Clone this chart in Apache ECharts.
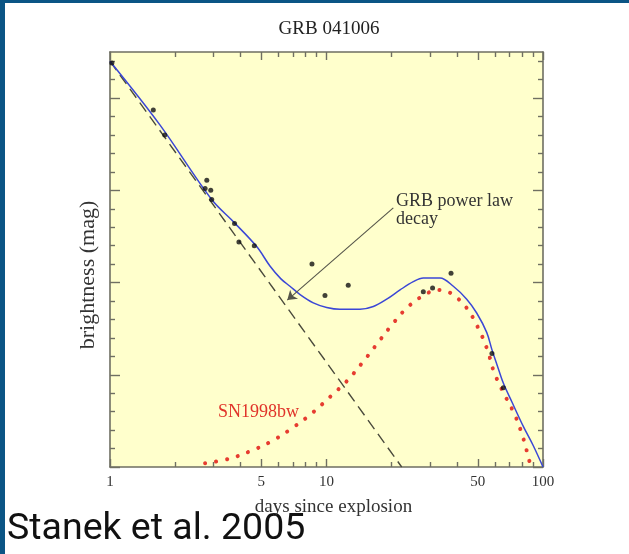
<!DOCTYPE html>
<html>
<head>
<meta charset="utf-8">
<title>GRB 041006</title>
<script src="https://cdn.jsdelivr.net/npm/echarts@6/dist/echarts.min.js"></script>
<style>
  html, body { margin: 0; padding: 0; background: #ffffff; }
  #chart { width: 629px; height: 554px; }
</style>
</head>
<body>
<div id="chart"></div>
<script>
// Observed afterglow photometry (days since burst, R magnitude)
const obsDays = [1.02, 1.585, 1.79, 2.80, 2.75, 2.92, 2.95, 3.76, 3.94, 4.64, 8.57, 9.84, 12.6, 28.0, 30.9, 37.6, 58.1, 65.6];
const obsMag  = [19.62, 20.13, 20.40, 20.89, 20.98, 21.00, 21.10, 21.36, 21.56, 21.60, 21.80, 22.14, 22.03, 22.10, 22.06, 21.90, 22.77, 23.14];

// Power-law afterglow decay (straight line in log time)
const powerLawDays = [1, 22.25];
const powerLawMag  = [19.60, 24.00];

// SN 1998bw template light curve
const snDays = [2.75, 3.56, 4.54, 5.68, 7.03, 8.64, 10.38, 12.4, 14.63, 17.06, 19.86, 23.62, 28.51, 32.63, 37.19, 44.23, 50.63, 55.55, 59.38, 65.56, 74.27, 81.1, 86.15, 88.0];
const snMag  = [23.96, 23.91, 23.82, 23.71, 23.57, 23.41, 23.24, 23.07, 22.87, 22.67, 22.47, 22.27, 22.13, 22.08, 22.11, 22.27, 22.51, 22.74, 22.97, 23.19, 23.44, 23.69, 23.92, 24.00];

// Combined model: afterglow + supernova + host
const modelDays = [1, 1.70, 2.95, 3.75, 4.76, 5.48, 6.16, 6.78, 7.55, 8.69, 10.02, 11.54, 14.28, 16.45, 18.97, 21.86, 25.17, 28.0, 33.44, 38.52, 44.42, 49.4, 54.95, 58.13, 61.3, 65.56, 71.69, 81.1, 90.21, 100];
const modelMag  = [19.60, 20.29, 21.10, 21.35, 21.61, 21.82, 21.96, 22.04, 22.13, 22.22, 22.27, 22.29, 22.29, 22.26, 22.18, 22.08, 21.99, 21.95, 21.95, 22.04, 22.18, 22.33, 22.54, 22.73, 22.89, 23.09, 23.29, 23.56, 23.77, 24.00];

// Axis ticks
const xMajorTicks = [1, 5, 10, 50, 100];
const xMinorTicks = [2, 3, 4, 6, 7, 8, 9, 20, 30, 40, 60, 70, 80, 90];
const yMajorTicks = [20, 21, 22, 23, 24];
const yMinorTicks = [19.6, 19.8, 20.2, 20.4, 20.6, 20.8, 21.2, 21.4, 21.6, 21.8, 22.2, 22.4, 22.6, 22.8, 23.2, 23.4, 23.6, 23.8];

const SERIF = '"Liberation Serif", "DejaVu Serif", serif';
const FRAME = '#6f6f62';
const pairs = (xs, ys) => xs.map((x, i) => [x, ys[i]]);
const lg = v => Math.log10(v);

// Tick-only axes work in log10(days) space so ticks land on the log axis positions
function xTickAxis(position, ticks, len, withLine, withLabels) {
  return {
    type: 'value', min: 0, max: 2, position: position,
    axisLine: { show: withLine, onZero: false, lineStyle: { color: FRAME, width: 1.6 } },
    axisTick: { show: true, inside: true, length: len, customValues: ticks.map(lg), lineStyle: { color: FRAME, width: 1.4 } },
    axisLabel: withLabels ? {
      show: true, customValues: ticks.map(lg), margin: 8,
      formatter: v => String(Math.round(Math.pow(10, v))),
      color: '#333', fontFamily: SERIF, fontSize: 15
    } : { show: false },
    splitLine: { show: false }
  };
}
function yTickAxis(position, ticks, len, withLine) {
  return {
    type: 'value', min: 19.5, max: 24, inverse: true, position: position,
    axisLine: { show: withLine, onZero: false, lineStyle: { color: FRAME, width: 1.6 } },
    axisTick: { show: true, inside: true, length: len, customValues: ticks, lineStyle: { color: FRAME, width: 1.4 } },
    axisLabel: { show: false },
    splitLine: { show: false }
  };
}

const chart = echarts.init(document.getElementById('chart'), null, { renderer: 'canvas' });

const option = {
  animation: false,
  backgroundColor: '#ffffff',
  grid: { left: 110, right: 86, top: 52, bottom: 87, show: true, backgroundColor: '#ffffcc', borderWidth: 0, containLabel: false },
  xAxis: [
    {
      type: 'log', logBase: 10, min: 1, max: 100, position: 'bottom',
      axisLine: { show: true, onZero: false, lineStyle: { color: FRAME, width: 1.6 } },
      axisTick: { show: false }, axisLabel: { show: false }, splitLine: { show: false },
      name: 'days since explosion', nameLocation: 'middle', nameGap: 31,
      nameTextStyle: { fontFamily: SERIF, fontSize: 19, color: '#333', padding: [0, 0, 0, 14] }
    },
    xTickAxis('bottom', xMajorTicks, 8, false, true),
    xTickAxis('bottom', xMinorTicks, 5, false, false),
    xTickAxis('top', xMajorTicks, 8, true, false),
    xTickAxis('top', xMinorTicks, 5, false, false)
  ],
  yAxis: [
    {
      type: 'value', min: 19.5, max: 24, inverse: true, position: 'left',
      axisLine: { show: true, onZero: false, lineStyle: { color: FRAME, width: 1.6 } },
      axisTick: { show: true, inside: true, length: 10, customValues: yMajorTicks, lineStyle: { color: FRAME, width: 1.4 } },
      axisLabel: { show: false }, splitLine: { show: false }
    },
    yTickAxis('left', yMinorTicks, 5, false),
    yTickAxis('right', yMajorTicks, 10, true),
    yTickAxis('right', yMinorTicks, 5, false)
  ],
  series: [
    {
      name: 'power law', type: 'line', xAxisIndex: 0, yAxisIndex: 0,
      data: pairs(powerLawDays, powerLawMag), showSymbol: false, symbol: 'none',
      lineStyle: { color: '#4a4a3c', width: 1.4, type: [11, 6] },
      z: 3,
      markLine: {
        silent: true, symbol: ['none', 'arrow'], symbolSize: 9, precision: 4,
        label: { show: false },
        lineStyle: { color: '#55554a', width: 1.1, type: 'solid' },
        data: [[{ coord: [20.35, 21.19] }, { coord: [6.59, 22.19] }]]
      }
    },
    {
      name: 'SN1998bw', type: 'line', xAxisIndex: 0, yAxisIndex: 0,
      data: pairs(snDays, snMag), showSymbol: false, symbol: 'none', smooth: 0.35,
      lineStyle: { color: '#e63c30', width: 4, type: [0.1, 11], cap: 'round' },
      z: 3
    },
    {
      name: 'model', type: 'line', xAxisIndex: 0, yAxisIndex: 0,
      data: pairs(modelDays, modelMag), showSymbol: false, symbol: 'none', smooth: 0.35,
      lineStyle: { color: '#3b47d6', width: 1.5 },
      z: 4
    },
    {
      name: 'GRB 041006', type: 'scatter', xAxisIndex: 0, yAxisIndex: 0,
      data: pairs(obsDays, obsMag), symbol: 'circle', symbolSize: 5,
      itemStyle: { color: '#111111' },
      z: 5
    }
  ],
  graphic: [
    { type: 'rect', shape: { x: 0, y: 0, width: 629, height: 3 }, style: { fill: '#0b5585' }, silent: true },
    { type: 'rect', shape: { x: 0, y: 0, width: 5, height: 554 }, style: { fill: '#0b5585' }, silent: true },
    { type: 'text', x: 329, y: 29, style: { text: 'GRB 041006', font: '19px ' + SERIF, fill: '#222', align: 'center', verticalAlign: 'middle' }, silent: true },
    { type: 'text', x: 88, y: 275, rotation: Math.PI / 2, style: { text: 'brightness (mag)', font: '22px ' + SERIF, fill: '#333', align: 'center', verticalAlign: 'middle' }, silent: true },
    { type: 'text', x: 396, y: 192, style: { text: 'GRB power law\ndecay', font: '18px ' + SERIF, fill: '#333', lineHeight: 18, align: 'left', verticalAlign: 'top' }, silent: true },
    { type: 'text', x: 218, y: 403, style: { text: 'SN1998bw', font: '18px ' + SERIF, fill: '#e0342a', align: 'left', verticalAlign: 'top' }, silent: true },
    { type: 'text', x: 7, y: 530, style: { text: 'Stanek et al. 2005', font: '37.5px Roboto, "Noto Sans", sans-serif', fill: '#111', align: 'left', verticalAlign: 'middle' }, silent: true }
  ]
};

chart.setOption(option);
</script>
</body>
</html>
